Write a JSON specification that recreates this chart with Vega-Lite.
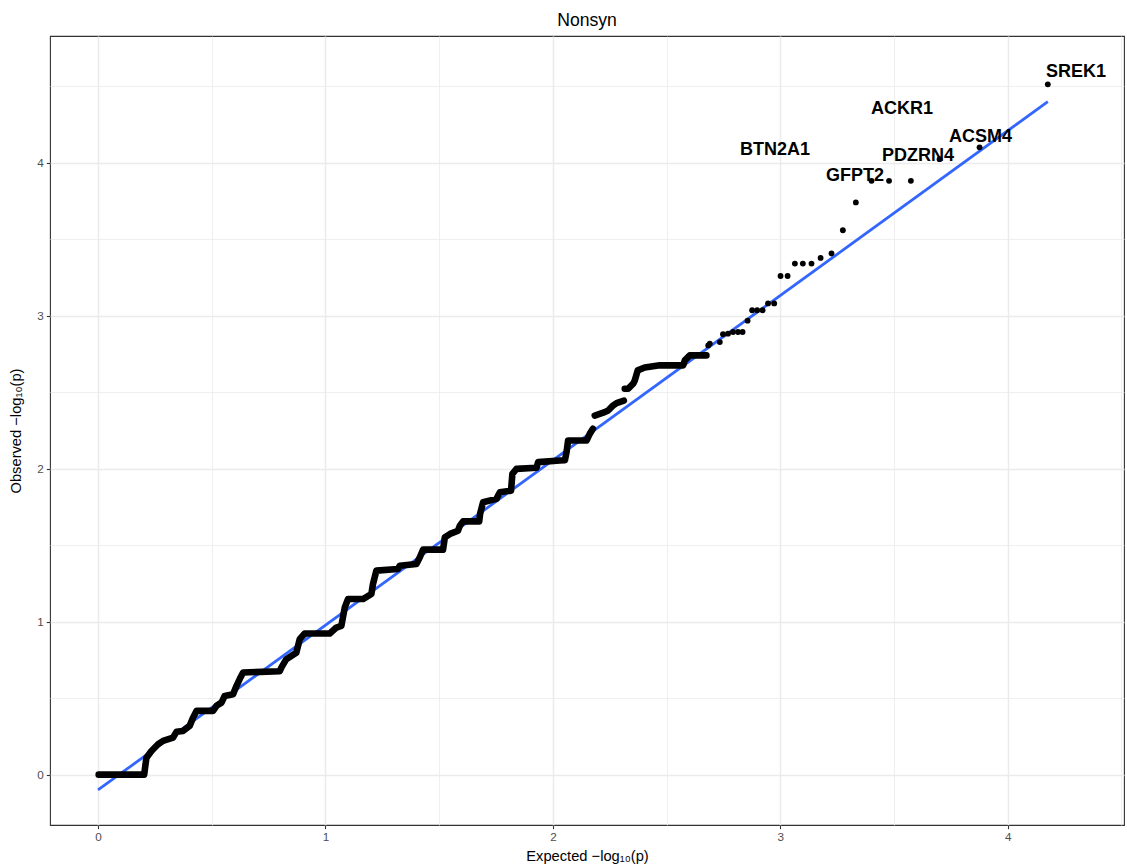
{
  "$schema": "https://vega.github.io/schema/vega-lite/v6.json",
  "width": 1074,
  "height": 789,
  "autosize": {"type": "none"},
  "padding": {"left": 50, "top": 36, "right": 3, "bottom": 42},
  "background": "white",
  "title": {
    "text": "Nonsyn",
    "font": "Liberation Sans",
    "fontSize": 17.6,
    "fontWeight": "normal",
    "color": "#000000",
    "anchor": "middle",
    "frame": "group",
    "baseline": "alphabetic",
    "offset": 12,
    "dy": 20
  },
  "config": {
    "view": {"stroke": "#333333", "strokeWidth": 1.1},
    "axis": {
      "domain": false,
      "labelFont": "Liberation Sans",
      "labelFontSize": 11.7,
      "labelColor": "#4D4D4D",
      "titleFont": "Liberation Sans",
      "titleFontSize": 14.7,
      "titleFontWeight": "normal",
      "titleColor": "#000000",
      "tickColor": "#333333",
      "tickWidth": 1.1,
      "tickSize": 3.7,
      "labelPadding": 3,
      "gridColor": "#EBEBEB"
    }
  },
  "datasets": {
    "fit": [
      {"expected": 0, "observed": -0.1},
      {"expected": 4.176, "observed": 4.4}
    ],
    "dense": [
      {"expected": 0.003, "observed": 0, "run": 1},
      {"expected": 0.203, "observed": 0, "run": 1},
      {"expected": 0.208, "observed": 0.057, "run": 1},
      {"expected": 0.213, "observed": 0.111, "run": 1},
      {"expected": 0.235, "observed": 0.155, "run": 1},
      {"expected": 0.264, "observed": 0.199, "run": 1},
      {"expected": 0.286, "observed": 0.221, "run": 1},
      {"expected": 0.33, "observed": 0.242, "run": 1},
      {"expected": 0.345, "observed": 0.28, "run": 1},
      {"expected": 0.374, "observed": 0.286, "run": 1},
      {"expected": 0.403, "observed": 0.319, "run": 1},
      {"expected": 0.418, "observed": 0.373, "run": 1},
      {"expected": 0.433, "observed": 0.417, "run": 1},
      {"expected": 0.506, "observed": 0.417, "run": 1},
      {"expected": 0.521, "observed": 0.45, "run": 1},
      {"expected": 0.543, "observed": 0.471, "run": 1},
      {"expected": 0.557, "observed": 0.515, "run": 1},
      {"expected": 0.594, "observed": 0.526, "run": 1},
      {"expected": 0.609, "observed": 0.581, "run": 1},
      {"expected": 0.623, "observed": 0.625, "run": 1},
      {"expected": 0.638, "observed": 0.668, "run": 1},
      {"expected": 0.799, "observed": 0.676, "run": 1},
      {"expected": 0.806, "observed": 0.7, "run": 1},
      {"expected": 0.828, "observed": 0.755, "run": 1},
      {"expected": 0.872, "observed": 0.797, "run": 1},
      {"expected": 0.887, "observed": 0.886, "run": 1},
      {"expected": 0.909, "observed": 0.923, "run": 1},
      {"expected": 1.019, "observed": 0.923, "run": 1},
      {"expected": 1.048, "observed": 0.962, "run": 1},
      {"expected": 1.07, "observed": 0.973, "run": 1},
      {"expected": 1.085, "observed": 1.093, "run": 1},
      {"expected": 1.099, "observed": 1.148, "run": 1},
      {"expected": 1.165, "observed": 1.148, "run": 1},
      {"expected": 1.202, "observed": 1.181, "run": 1},
      {"expected": 1.209, "observed": 1.246, "run": 1},
      {"expected": 1.224, "observed": 1.334, "run": 1},
      {"expected": 1.319, "observed": 1.345, "run": 1},
      {"expected": 1.327, "observed": 1.366, "run": 1},
      {"expected": 1.4, "observed": 1.377, "run": 1},
      {"expected": 1.415, "observed": 1.421, "run": 1},
      {"expected": 1.429, "observed": 1.471, "run": 1},
      {"expected": 1.517, "observed": 1.471, "run": 1},
      {"expected": 1.525, "observed": 1.552, "run": 1},
      {"expected": 1.548, "observed": 1.574, "run": 1},
      {"expected": 1.583, "observed": 1.595, "run": 1},
      {"expected": 1.591, "observed": 1.628, "run": 1},
      {"expected": 1.605, "observed": 1.656, "run": 1},
      {"expected": 1.676, "observed": 1.656, "run": 1},
      {"expected": 1.68, "observed": 1.705, "run": 1},
      {"expected": 1.693, "observed": 1.781, "run": 1},
      {"expected": 1.752, "observed": 1.803, "run": 1},
      {"expected": 1.767, "observed": 1.846, "run": 1},
      {"expected": 1.816, "observed": 1.857, "run": 1},
      {"expected": 1.822, "observed": 1.967, "run": 1},
      {"expected": 1.84, "observed": 1.999, "run": 1},
      {"expected": 1.928, "observed": 2.006, "run": 1},
      {"expected": 1.935, "observed": 2.043, "run": 1},
      {"expected": 2.03, "observed": 2.054, "run": 1},
      {"expected": 2.053, "observed": 2.056, "run": 1},
      {"expected": 2.06, "observed": 2.108, "run": 1},
      {"expected": 2.063, "observed": 2.141, "run": 1},
      {"expected": 2.067, "observed": 2.185, "run": 1},
      {"expected": 2.148, "observed": 2.185, "run": 1},
      {"expected": 2.162, "observed": 2.228, "run": 1},
      {"expected": 2.176, "observed": 2.261, "run": 1},
      {"expected": 2.184, "observed": 2.348, "run": 2},
      {"expected": 2.228, "observed": 2.37, "run": 2},
      {"expected": 2.243, "observed": 2.381, "run": 2},
      {"expected": 2.265, "observed": 2.414, "run": 2},
      {"expected": 2.28, "observed": 2.429, "run": 2},
      {"expected": 2.312, "observed": 2.445, "run": 2},
      {"expected": 2.316, "observed": 2.523, "run": 3},
      {"expected": 2.331, "observed": 2.523, "run": 3},
      {"expected": 2.353, "observed": 2.556, "run": 3},
      {"expected": 2.36, "observed": 2.577, "run": 3},
      {"expected": 2.373, "observed": 2.643, "run": 3},
      {"expected": 2.404, "observed": 2.662, "run": 3},
      {"expected": 2.47, "observed": 2.676, "run": 3},
      {"expected": 2.573, "observed": 2.676, "run": 3},
      {"expected": 2.58, "observed": 2.708, "run": 3},
      {"expected": 2.602, "observed": 2.741, "run": 3},
      {"expected": 2.675, "observed": 2.741, "run": 3}
    ],
    "tail": [
      {"expected": 2.683, "observed": 2.806},
      {"expected": 2.69, "observed": 2.818},
      {"expected": 2.734, "observed": 2.828},
      {"expected": 2.748, "observed": 2.879},
      {"expected": 2.77, "observed": 2.883},
      {"expected": 2.792, "observed": 2.894},
      {"expected": 2.814, "observed": 2.894},
      {"expected": 2.834, "observed": 2.894},
      {"expected": 2.856, "observed": 2.968},
      {"expected": 2.876, "observed": 3.036},
      {"expected": 2.898, "observed": 3.036},
      {"expected": 2.922, "observed": 3.036},
      {"expected": 2.946, "observed": 3.081},
      {"expected": 2.973, "observed": 3.081},
      {"expected": 3.001, "observed": 3.26},
      {"expected": 3.032, "observed": 3.26},
      {"expected": 3.064, "observed": 3.341},
      {"expected": 3.099, "observed": 3.341},
      {"expected": 3.137, "observed": 3.341},
      {"expected": 3.177, "observed": 3.378},
      {"expected": 3.225, "observed": 3.407},
      {"expected": 3.275, "observed": 3.559},
      {"expected": 3.332, "observed": 3.741},
      {"expected": 3.401, "observed": 3.882, "gene": "GFPT2"},
      {"expected": 3.478, "observed": 3.882, "gene": "BTN2A1"},
      {"expected": 3.574, "observed": 3.882, "gene": "ACKR1"},
      {"expected": 3.7, "observed": 4.024, "gene": "PDZRN4"},
      {"expected": 3.876, "observed": 4.101, "gene": "ACSM4"},
      {"expected": 4.176, "observed": 4.513, "gene": "SREK1"}
    ],
    "labels": [
      {"gene": "SREK1", "label_x": 4.3, "label_y": 4.594},
      {"gene": "ACKR1", "label_x": 3.535, "label_y": 4.35},
      {"gene": "ACSM4", "label_x": 3.88, "label_y": 4.17},
      {"gene": "BTN2A1", "label_x": 2.977, "label_y": 4.083},
      {"gene": "PDZRN4", "label_x": 3.605, "label_y": 4.044},
      {"gene": "GFPT2", "label_x": 3.328, "label_y": 3.913}
    ]
  },
  "layer": [
    {
      "data": {"name": "fit"},
      "mark": {"type": "line", "color": "#3366FF", "strokeWidth": 2.8},
      "encoding": {
        "x": {
          "field": "expected",
          "type": "quantitative",
          "scale": {"domain": [-0.211, 4.511], "nice": false, "zero": false},
          "axis": {
            "title": "Expected −log₁₀(p)",
            "titlePadding": 5,
            "format": ".0f",
            "values": [0, 0.5, 1, 1.5, 2, 2.5, 3, 3.5, 4, 4.5],
            "labelExpr": "datum.value % 1 === 0 ? datum.label : ''",
            "tickOpacity": {"condition": {"test": "datum.value % 1 !== 0", "value": 0}, "value": 1},
            "gridWidth": {"condition": {"test": "datum.value % 1 !== 0", "value": 0.8}, "value": 1.5}
          }
        },
        "y": {
          "field": "observed",
          "type": "quantitative",
          "scale": {"domain": [-0.329, 4.829], "nice": false, "zero": false},
          "axis": {
            "title": "Observed −log₁₀(p)",
            "titlePadding": 13,
            "format": ".0f",
            "values": [0, 0.5, 1, 1.5, 2, 2.5, 3, 3.5, 4, 4.5],
            "labelExpr": "datum.value % 1 === 0 ? datum.label : ''",
            "tickOpacity": {"condition": {"test": "datum.value % 1 !== 0", "value": 0}, "value": 1},
            "gridWidth": {"condition": {"test": "datum.value % 1 !== 0", "value": 0.8}, "value": 1.5}
          }
        }
      }
    },
    {
      "data": {"name": "dense"},
      "mark": {"type": "line", "color": "#000000", "strokeWidth": 6.6, "strokeCap": "round", "strokeJoin": "round"},
      "encoding": {
        "x": {"field": "expected", "type": "quantitative"},
        "y": {"field": "observed", "type": "quantitative"},
        "detail": {"field": "run", "type": "nominal"}
      }
    },
    {
      "data": {"name": "tail"},
      "mark": {"type": "point", "filled": true, "color": "#000000", "opacity": 1, "size": 34},
      "encoding": {
        "x": {"field": "expected", "type": "quantitative"},
        "y": {"field": "observed", "type": "quantitative"}
      }
    },
    {
      "data": {"name": "labels"},
      "mark": {"type": "text", "font": "Liberation Sans", "fontWeight": "bold", "fontSize": 18, "color": "#000000", "align": "center", "baseline": "middle"},
      "encoding": {
        "x": {"field": "label_x", "type": "quantitative"},
        "y": {"field": "label_y", "type": "quantitative"},
        "text": {"field": "gene"}
      }
    }
  ]
}
